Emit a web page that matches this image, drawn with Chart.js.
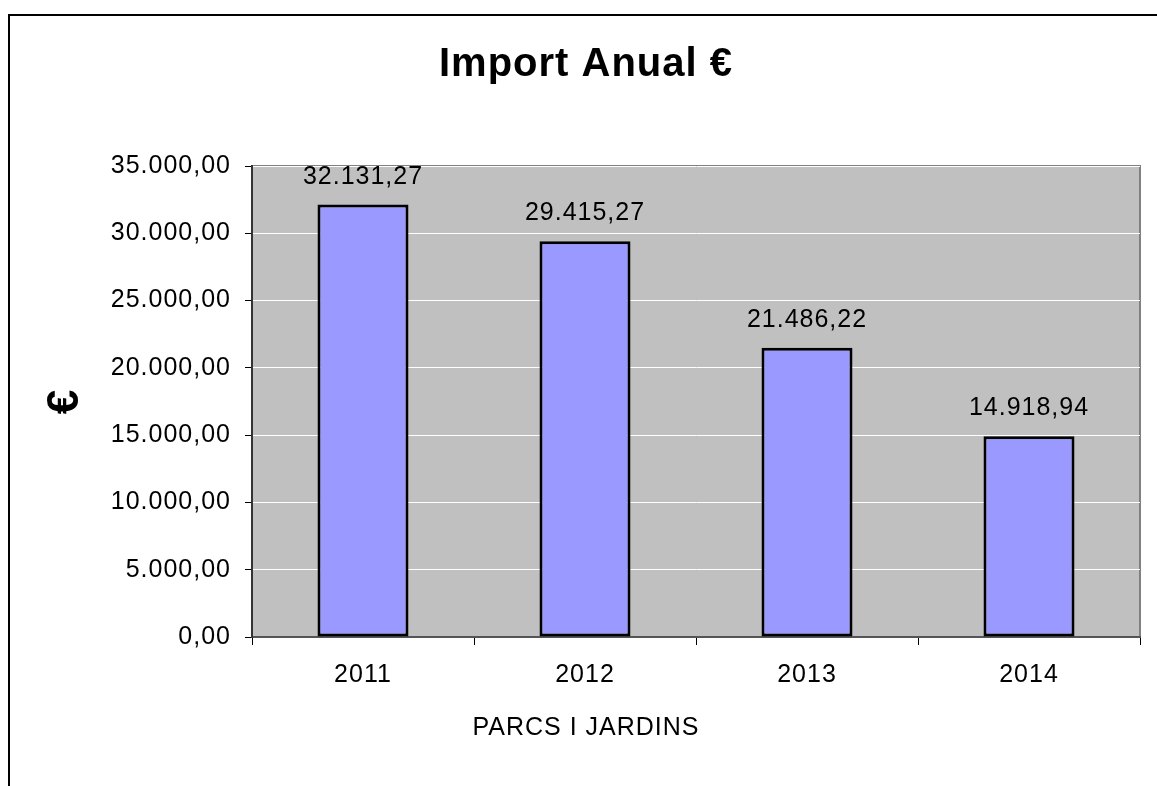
<!DOCTYPE html>
<html>
<head>
<meta charset="utf-8">
<title>Import Anual €</title>
<script src="https://cdn.jsdelivr.net/npm/chart.js@4.4.1/dist/chart.umd.min.js"></script>
<style>
    html, body { margin: 0; padding: 0; background: #ffffff; overflow: hidden; }
    #wrap { position: relative; width: 1157px; height: 786px; }
    #grafic { display: block; }
    /* marc del full (només vora superior i esquerra es veuen) */
    #marc {
        position: absolute; left: 8px; top: 14px; right: -10px; bottom: -10px;
        border-top: 2px solid #000; border-left: 2px solid #000;
        pointer-events: none;
    }
</style>
</head>
<body>
<div id="wrap">
    <canvas id="grafic" width="1157" height="786"></canvas>
    <div id="marc"></div>
</div>
<script>
// dades
const anys = ['2011', '2012', '2013', '2014'];
const imports = [32131.27, 29415.27, 21486.22, 14918.94];
const yMin = 0;
const yMax = 35000;
const yPas = 5000;

const FONT = "'Liberation Sans', Arial, sans-serif";

// format 35.000,00
function format(v) {
    const parts = v.toFixed(2).split('.');
    return parts[0].replace(/\B(?=(\d{3})+(?!\d))/g, '.') + ',' + parts[1];
}

// fons gris de l'àrea del gràfic + espaiat de lletres com l'Excel
const fonsPlot = {
    id: 'fonsPlot',
    beforeDraw(chart) {
        const { ctx, chartArea: a } = chart;
        ctx.save();
        ctx.fillStyle = '#C0C0C0';
        ctx.fillRect(a.left, a.top, a.right - a.left, a.bottom - a.top);
        ctx.strokeStyle = '#808080';
        ctx.lineWidth = 2;
        ctx.strokeRect(a.left, a.top, a.right - a.left, a.bottom - a.top);
        ctx.restore();
        ctx.letterSpacing = '1px';
    }
};

// etiquetes de valor damunt de cada barra
const etiquetes = {
    id: 'etiquetes',
    afterDatasetsDraw(chart) {
        const { ctx } = chart;
        const meta = chart.getDatasetMeta(0);
        ctx.save();
        ctx.font = '25px ' + FONT;
        ctx.fillStyle = '#000';
        ctx.textAlign = 'center';
        ctx.textBaseline = 'alphabetic';
        meta.data.forEach((bar, i) => {
            ctx.fillText(format(imports[i]), bar.x, bar.y - 21);
        });
        ctx.restore();
    }
};

new Chart(document.getElementById('grafic'), {
    type: 'bar',
    data: {
        labels: anys,
        datasets: [{
            data: imports,
            backgroundColor: '#9999FF',
            borderColor: '#000000',
            borderWidth: 3,
            borderSkipped: false,
            barPercentage: 0.41,
            categoryPercentage: 1.0
        }]
    },
    options: {
        responsive: false,
        animation: false,
        layout: { padding: { left: 32, right: 17, top: 0, bottom: 0 } },
        plugins: {
            legend: { display: false },
            tooltip: { enabled: false },
            title: {
                display: true,
                text: 'Import Anual €',
                color: '#000',
                font: { family: FONT, size: 40, weight: 'bold' },
                padding: { top: 41, bottom: 77 }
            },
            subtitle: {
                display: true,
                text: 'PARCS I JARDINS',
                position: 'bottom',
                color: '#000',
                font: { family: FONT, size: 25 },
                padding: { top: 16, bottom: 43 }
            }
        },
        scales: {
            x: {
                offset: true,
                grid: {
                    offset: true,
                    drawOnChartArea: false,
                    drawTicks: true,
                    tickLength: 8,
                    tickColor: '#000'
                },
                border: { color: '#555', width: 2 },
                ticks: {
                    color: '#000',
                    font: { family: FONT, size: 25 },
                    padding: 15
                },
                afterFit(scale) { scale.height = 60; }
            },
            y: {
                min: yMin,
                max: yMax,
                grid: {
                    color: '#FFFFFF',
                    lineWidth: 1,
                    drawTicks: true,
                    tickLength: 7,
                    tickColor: '#000'
                },
                border: { color: '#333', width: 2 },
                ticks: {
                    stepSize: yPas,
                    color: '#000',
                    font: { family: FONT, size: 25 },
                    padding: 14,
                    callback: (v) => format(v)
                },
                title: {
                    display: true,
                    text: '€',
                    color: '#000',
                    font: { family: FONT, size: 44, weight: 'bold' },
                    padding: { top: 7, bottom: 0 }
                },
                afterFit(scale) { scale.width = 220; }
            }
        }
    },
    plugins: [fonsPlot, etiquetes]
});
</script>
</body>
</html>
